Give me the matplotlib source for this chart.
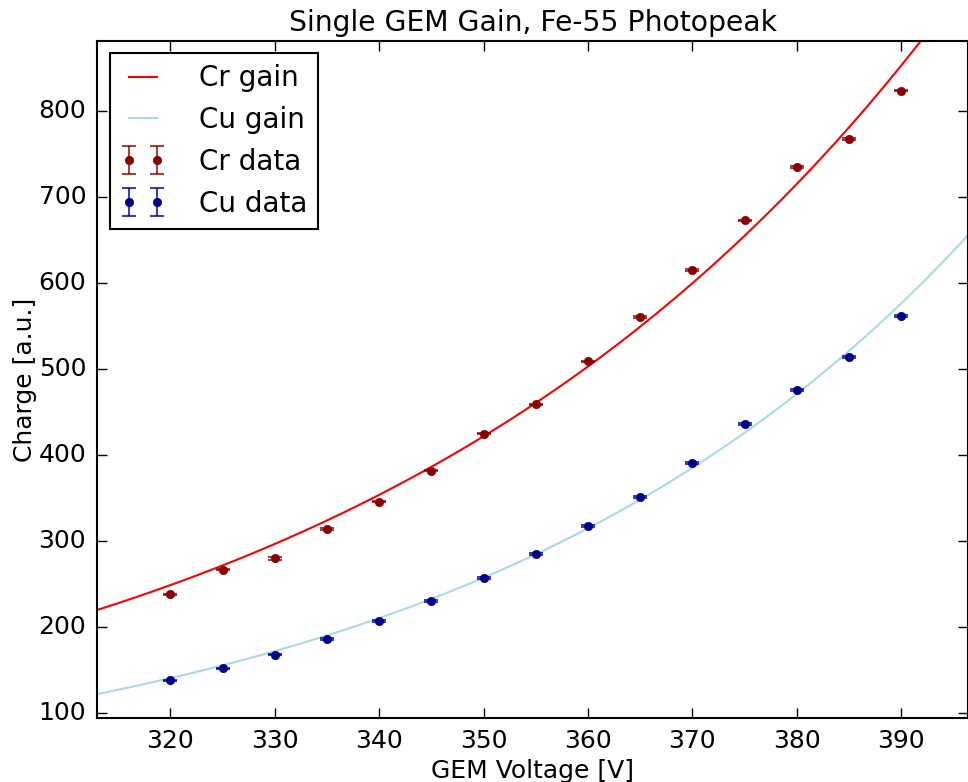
import numpy as np
import matplotlib
matplotlib.use("Agg")
import matplotlib.pyplot as plt

plt.style.use("classic")
plt.rcParams["font.family"] = ["DejaVu Sans"]

# GEM voltage settings [V]
voltage = [320, 325, 330, 335, 340, 345, 350, 355, 360, 365, 370, 375, 380, 385, 390]

# Photopeak charge [a.u.] for the two GEM foil types
cr_charge = [238, 267, 280, 314, 346, 382, 425, 459, 509, 561, 615, 673, 735, 768, 824]
cu_charge = [138, 152, 168, 186, 207, 230, 257, 285, 318, 351, 391, 436, 476, 514, 562]
cr_err = [1.0, 1.0, 1.5, 1.0, 1.0, 1.0, 1.0, 1.0, 1.0, 1.0, 1.0, 1.0, 1.0, 1.0, 1.0]
cu_err = [1.0, 1.0, 1.0, 1.0, 1.0, 1.0, 1.0, 1.0, 1.0, 1.0, 1.0, 1.0, 1.0, 1.0, 1.0]

# Exponential gain fits: charge = amp * exp(slope * (V - 300))
cr_fit_amp, cr_fit_slope = 175.0, 0.0176
cu_fit_amp, cu_fit_slope = 94.0, 0.02015

x_lo, x_hi = 313.0, 396.4
y_lo, y_hi = 94.0, 882.0

fig = plt.figure(figsize=(9.68, 7.82), dpi=100, facecolor="white")
ax = fig.add_axes([0.1005, 0.0815, 0.8995, 0.8665])

vv = np.linspace(x_lo, x_hi, 400)
ax.plot(vv, cr_fit_amp * np.exp(cr_fit_slope * (vv - 300)), color="red", lw=1.5, label="Cr gain")
ax.plot(vv, cu_fit_amp * np.exp(cu_fit_slope * (vv - 300)), color="lightblue", lw=1.5, label="Cu gain")

ax.errorbar(voltage, cr_charge, yerr=cr_err, fmt="o", color="darkred", mec="darkred",
            ms=6, ecolor=(0.55, 0.0, 0.0, 0.75), elinewidth=1.5, capsize=5, capthick=1.5,
            label="Cr data")
ax.errorbar(voltage, cu_charge, yerr=cu_err, fmt="o", color="darkblue", mec="darkblue",
            ms=6, ecolor=(0.0, 0.0, 0.55, 0.75), elinewidth=1.5, capsize=5, capthick=1.5,
            label="Cu data")

ax.set_xlim(x_lo, x_hi)
ax.set_ylim(y_lo, y_hi)
ax.set_xticks([320, 330, 340, 350, 360, 370, 380, 390])
ax.set_yticks([100, 200, 300, 400, 500, 600, 700, 800])
ax.tick_params(axis="both", which="major", labelsize=18, length=7, width=1, pad=8)
for s in ax.spines.values():
    s.set_linewidth(1.5)

ax.set_title("Single GEM Gain, Fe-55 Photopeak", fontsize=20.3, pad=7)
ax.set_xlabel("GEM Voltage [V]", fontsize=18, labelpad=4)
ax.set_ylabel("Charge [a.u.]", fontsize=18, labelpad=1)

leg = ax.legend(loc="upper left", fontsize=20, numpoints=2, handlelength=1.6,
                borderpad=0.4, labelspacing=0.5, handletextpad=1.2, borderaxespad=0.45)
leg.get_frame().set_linewidth(1.5)
leg.get_frame().set_edgecolor("black")

fig.savefig("out.png", dpi=100, facecolor="white")
